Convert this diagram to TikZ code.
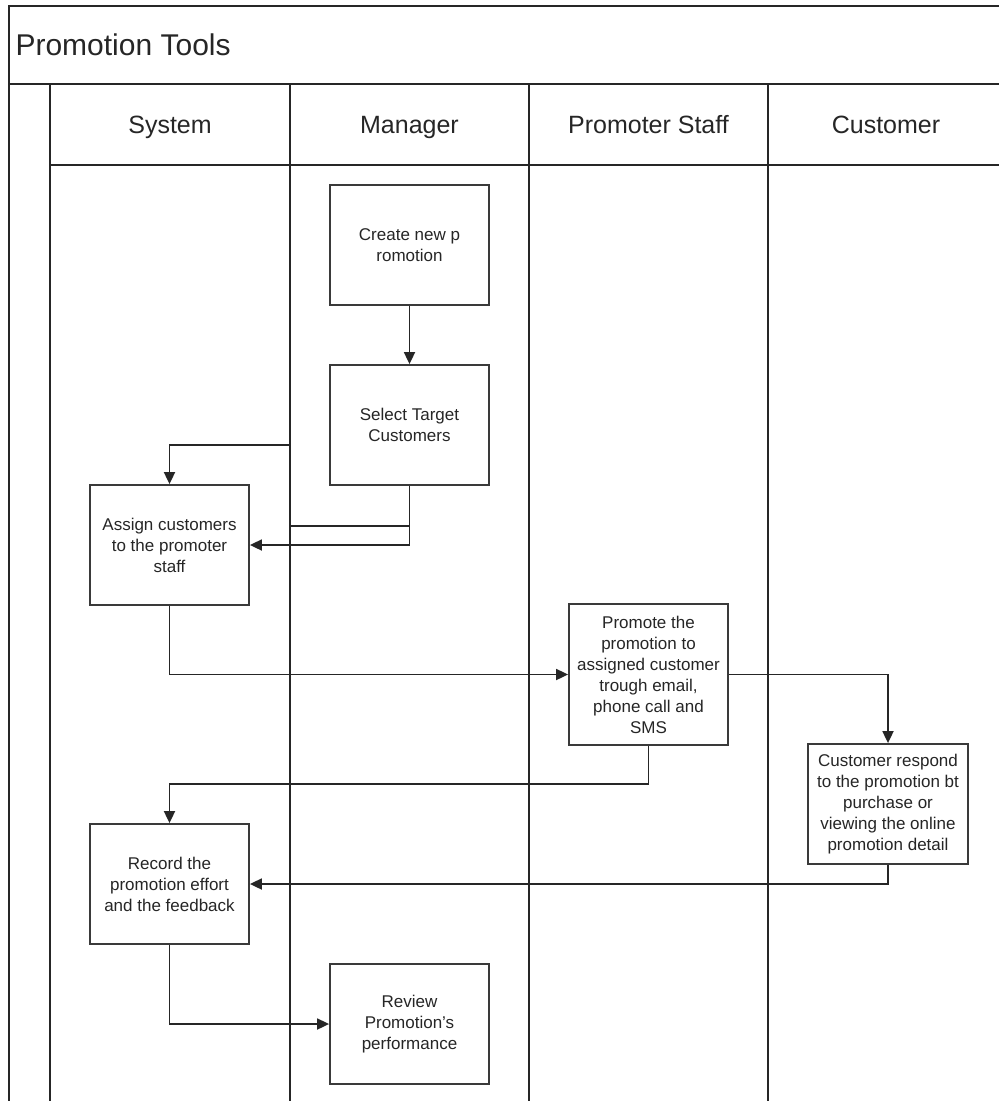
\documentclass[tikz,border=0pt]{standalone}
\usepackage{fontspec}
\setmainfont{Liberation Sans}
\usetikzlibrary{arrows.meta}
\definecolor{ink}{HTML}{262626}
\definecolor{boxline}{HTML}{3A3A3A}
\tikzset{
  frame/.style={draw=ink, line width=2.2pt},
  lanehead/.style={font=\fontsize{25}{30}\selectfont, text=ink, anchor=base},
  activity/.style={draw=boxline, line width=1.8pt, fill=white, rectangle,
    minimum width=159pt, minimum height=120pt, inner sep=0pt, align=center,
    font=\fontsize{17}{21}\selectfont, text=ink},
  flow/.style={draw=ink, line width=1.8pt, -{Triangle[length=12pt,width=11pt]}},
  plain/.style={draw=ink, line width=1.8pt}
}
\begin{document}
\begin{tikzpicture}[x=1pt, y=-1pt]
  \useasboundingbox (0,0) rectangle (999,1101);
  % pool frame and title bar
  \draw[frame] (999,6) -- (9,6) -- (9,1101);
  \draw[frame] (9,84) -- (999,84);
  \draw[frame] (50,84) -- (50,1101);
  \draw[frame] (50,165) -- (999,165);
  % lane separators
  \foreach \x in {290,529,768} \draw[frame] (\x,84) -- (\x,1101);
  \node[anchor=base west, font=\fontsize{30}{36}\selectfont, text=ink] (title) at (12,55) {Promotion Tools};
  % lane headers
  \node[lanehead] (hsys) at (170,133) {System};
  \node[lanehead] (hman) at (409.5,133) {Manager};
  \node[lanehead] (hstaff) at (648.5,133) {Promoter Staff};
  \node[lanehead] (hcust) at (886,133) {Customer};
  % activities
  \node[activity] (create) at (409.5,245) {Create new p\\romotion};
  \node[activity] (select) at (409.5,425) {Select Target\\Customers};
  \node[activity] (assign) at (169.5,545) {Assign customers\\to the promoter\\staff};
  \node[activity, minimum height=141pt] (promote) at (648.5,674.5) {Promote the\\promotion to\\assigned customer\\trough email,\\phone call and\\SMS};
  \node[activity, minimum width=160pt] (respond) at (888,804) {Customer respond\\to the promotion bt\\purchase or\\viewing the online\\promotion detail};
  \node[activity] (record) at (169.5,884) {Record the\\promotion effort\\and the feedback};
  \node[activity] (review) at (409.5,1024) {Review\\Promotion's\\performance};
  % connector waypoints
  \coordinate (j1) at (290,526);
  \coordinate (j2) at (290,445);
  \coordinate (k1) at (648.5,784);
  % connectors
  \draw[flow] (create) -- (select);
  \draw[flow] (select.south) |- (assign.east);
  \draw[plain] (select.south) |- (j1);
  \draw[flow] (j2) -| (assign.north);
  \draw[flow] (assign.south) |- (promote.west);
  \draw[flow] (promote.east) -| (respond.north);
  \draw[flow] (promote.south) -- (k1) -| (record.north);
  \draw[flow] (respond.south) |- (record.east);
  \draw[flow] (record.south) |- (review.west);
\end{tikzpicture}
\end{document}
